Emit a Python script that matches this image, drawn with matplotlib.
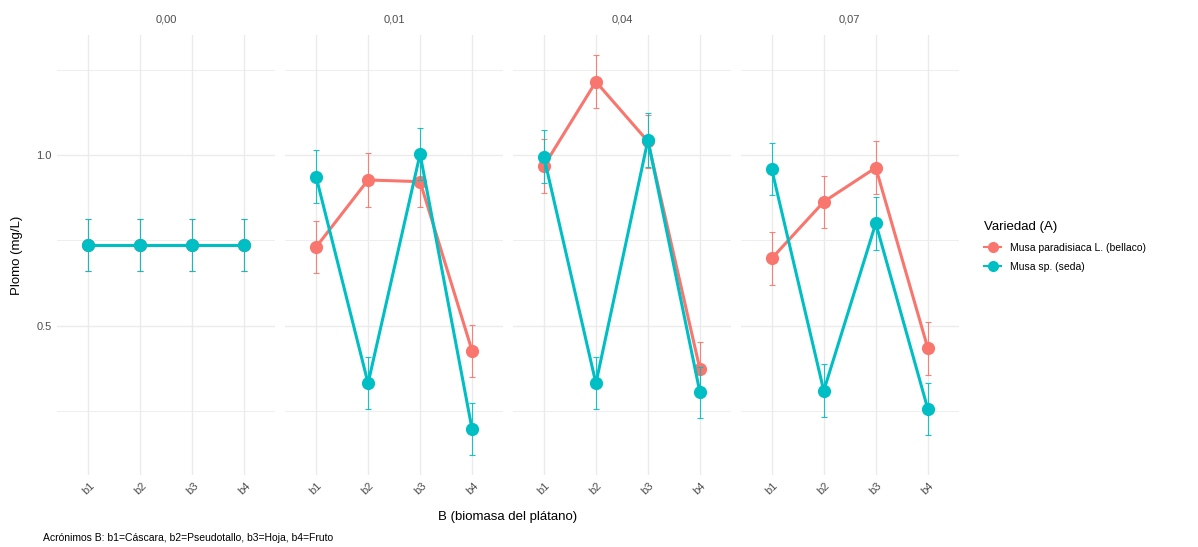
import matplotlib
matplotlib.use("Agg")
import matplotlib.pyplot as plt
from matplotlib.lines import Line2D
import numpy as np

plt.rcParams['font.family'] = ['Liberation Sans', 'DejaVu Sans']

# ---------------- data ----------------
facets = ["0,00", "0,01", "0,04", "0,07"]
biomasa = ["b1", "b2", "b3", "b4"]
variedades = ["Musa paradisiaca L. (bellaco)", "Musa sp. (seda)"]

bellaco_mean = [
    [0.737, 0.737, 0.737, 0.737],
    [0.730, 0.927, 0.922, 0.426],
    [0.968, 1.215, 1.040, 0.372],
    [0.697, 0.863, 0.963, 0.434],
]
seda_mean = [
    [0.737, 0.737, 0.737, 0.737],
    [0.937, 0.331, 1.003, 0.196],
    [0.995, 0.331, 1.044, 0.304],
    [0.958, 0.309, 0.800, 0.256],
]
bellaco_err = [
    [0.077, 0.077, 0.077, 0.077],
    [0.077, 0.078, 0.075, 0.077],
    [0.078, 0.078, 0.078, 0.079],
    [0.078, 0.077, 0.077, 0.078],
]
seda_err = [
    [0.077, 0.077, 0.077, 0.077],
    [0.078, 0.076, 0.077, 0.076],
    [0.078, 0.076, 0.078, 0.076],
    [0.076, 0.077, 0.078, 0.076],
]

colors = ["#F8766D", "#00BFC4"]
grid_c = "#EBEBEB"
text_c = "#4D4D4D"

W, H = 1198, 547
fig = plt.figure(figsize=(W / 100, H / 100), dpi=100)

left_px, right_px = 57, 959
gap_px = 9.4
pw = (right_px - left_px - 3 * gap_px) / 4
top_px, bot_px = 35, 475

x = np.arange(len(biomasa))
axes = []
for i, fac in enumerate(facets):
    lx = left_px + i * (pw + gap_px)
    ax = fig.add_axes([lx / W, 1 - bot_px / H, pw / W, (bot_px - top_px) / H])
    axes.append(ax)
    series = [(bellaco_mean[i], bellaco_err[i]), (seda_mean[i], seda_err[i])]
    for k, (m, e) in enumerate(series):
        ax.errorbar(x, m, yerr=e, fmt='none', ecolor=colors[k], elinewidth=0.8,
                    capsize=2.5, capthick=0.8, zorder=3 + k * 2, alpha=0.9)
        ax.plot(x, m, '-', color=colors[k], lw=2.2, zorder=3.5 + k * 2)
        ax.plot(x, m, 'o', color=colors[k], ms=9.5, mec='none', zorder=4 + k * 2)
    ax.set_xlim(-0.6, 3.6)
    ax.set_ylim(0.062, 1.352)
    ax.set_xticks(x)
    ax.set_xticklabels(biomasa, rotation=45, ha='center', va='top',
                       fontsize=8, color=text_c)
    ax.set_yticks([0.5, 1.0])
    ax.set_yticks([0.25, 0.75, 1.25], minor=True)
    if i == 0:
        ax.set_yticklabels(["0.5", "1.0"], fontsize=8, color=text_c)
    else:
        ax.set_yticklabels([])
    ax.tick_params(axis='both', which='both', length=0, pad=4)
    ax.grid(True, which='major', color=grid_c, lw=1.0)
    ax.grid(True, which='minor', axis='y', color=grid_c, lw=0.6)
    ax.set_axisbelow(True)
    for s in ax.spines.values():
        s.set_visible(False)
    ax.set_title(fac, fontsize=8, color=text_c, pad=9)

fig.text(17 / W, 1 - 255 / H, "Plomo (mg/L)", rotation=90, ha='center',
         va='center', fontsize=9.5, color='black')
fig.text((left_px + right_px) / 2 / W, 1 - 517 / H, "B (biomasa del plátano)",
         ha='center', va='center', fontsize=9.5, color='black')
fig.text(43 / W, 1 - 538 / H,
         "Acrónimos B: b1=Cáscara, b2=Pseudotallo, b3=Hoja, b4=Fruto",
         ha='left', va='center', fontsize=7.5, color='black')

handles = [Line2D([0], [0], color=c, lw=1.5, marker='o', ms=8, mec='none')
           for c in colors]
leg = fig.legend(handles, variedades, loc='upper left',
                 bbox_to_anchor=(975 / W, 1 - 212 / H), frameon=False,
                 title="Variedad (A)", fontsize=7.5, title_fontsize=9.5,
                 handlelength=1.6, labelspacing=0.9, handletextpad=0.9)
leg._legend_box.align = "left"

fig.savefig("out.png", dpi=100)
